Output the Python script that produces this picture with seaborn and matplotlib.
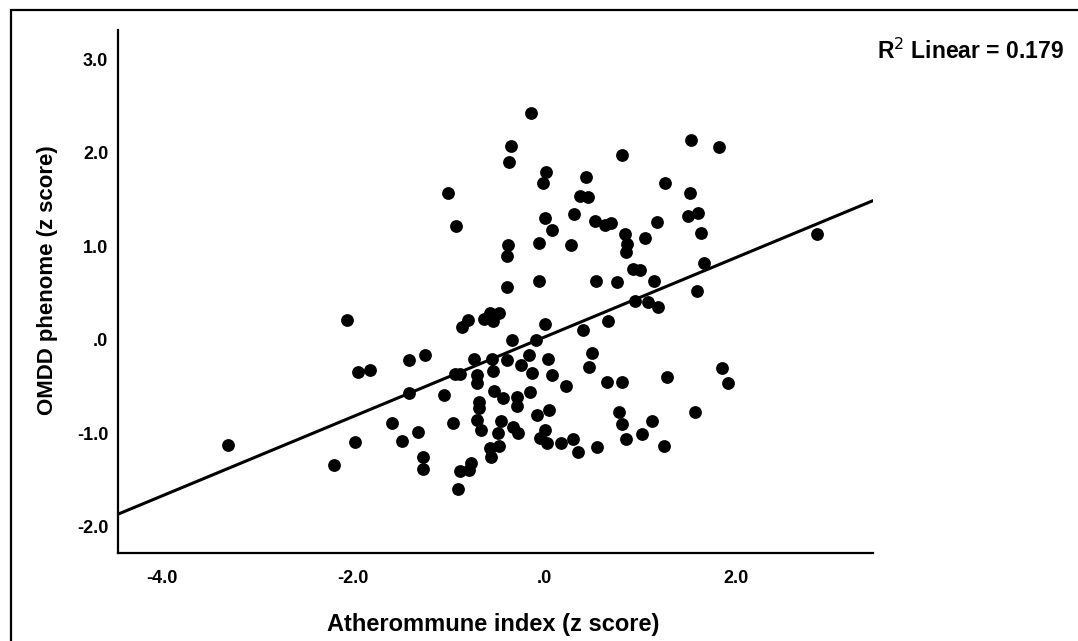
import numpy as np
import pandas as pd
import matplotlib
matplotlib.use("Agg")
import matplotlib.pyplot as plt
import seaborn as sns

# Atherommune index (z score)
atherommune = [
    -0.14, -0.355, -0.37, 0.01, -0.02, 0.43, 0.37, 0.45, -1.01, -0.93,
    0.81, 0.00, 0.08, 0.31, 0.53, 0.63, 0.69, 0.84, 0.86, 0.85,
    1.05, -0.38, -0.40, -0.06, 0.27, 0.92, 1.00, -0.06, 0.54, 0.75,
    1.53, 1.82, 1.26, 1.52, 1.50, 1.60, 1.17, 1.63, 2.85, 1.66,
    1.14, -0.39, 0.94, 1.08, 1.18, 1.59, -0.80, -0.87, -0.64, -0.57,
    -0.54, -0.48, 0.00, 0.66, 0.40, -0.34, -0.09, 0.49, 0.46, -0.74,
    -0.55, -0.39, -0.16, 0.03, -0.25, -0.94, -0.89, -0.71, -0.71, -0.54,
    -0.13, 0.08, 0.22, 0.65, 0.81, -1.05, -0.53, -0.44, -0.29, -0.29,
    -0.15, -0.69, -0.69, -0.08, 0.04, -0.96, -0.71, -0.67, -0.46, -0.49,
    -0.33, -0.28, 0.00, -0.05, 0.02, 0.17, 0.29, 0.35, 0.55, 0.78,
    0.81, 0.85, 1.02, -0.57, -0.48, -0.56, -0.89, -0.77, -0.79, -0.91,
    1.85, 1.91, 1.28, 1.57, 1.12, 1.25, -2.07, -1.95, -1.83, -1.42,
    -1.25, -1.42, -3.31, -1.60, -1.33, -1.98, -1.49, -1.27, -1.27, -2.20,
]

# OMDD phenome (z score)
omdd = [
    2.42, 2.07, 1.90, 1.79, 1.67, 1.74, 1.54, 1.52, 1.57, 1.22,
    1.97, 1.30, 1.17, 1.34, 1.27, 1.23, 1.25, 1.13, 1.02, 0.94,
    1.09, 1.01, 0.89, 1.03, 1.01, 0.76, 0.75, 0.63, 0.63, 0.62,
    2.13, 2.06, 1.67, 1.57, 1.32, 1.35, 1.26, 1.14, 1.13, 0.82,
    0.63, 0.56, 0.41, 0.40, 0.35, 0.52, 0.21, 0.14, 0.22, 0.28,
    0.20, 0.28, 0.17, 0.20, 0.10, 0.00, 0.00, -0.14, -0.29, -0.21,
    -0.21, -0.22, -0.16, -0.21, -0.27, -0.37, -0.37, -0.38, -0.46, -0.33,
    -0.36, -0.38, -0.50, -0.45, -0.45, -0.59, -0.55, -0.62, -0.61, -0.71,
    -0.56, -0.67, -0.73, -0.80, -0.75, -0.89, -0.86, -0.97, -0.87, -1.00,
    -0.93, -1.00, -0.96, -1.05, -1.10, -1.10, -1.06, -1.20, -1.15, -0.77,
    -0.90, -1.06, -1.01, -1.16, -1.14, -1.25, -1.40, -1.32, -1.39, -1.60,
    -0.30, -0.46, -0.40, -0.77, -0.87, -1.14, 0.21, -0.35, -0.32, -0.22,
    -0.16, -0.57, -1.13, -0.89, -0.99, -1.09, -1.08, -1.25, -1.38, -1.34,
]

x_ticks = [-4.0, -2.0, 0.0, 2.0]
x_tick_labels = ["-4.0", "-2.0", ".0", "2.0"]
y_ticks = [-2.0, -1.0, 0.0, 1.0, 2.0, 3.0]
y_tick_labels = ["-2.0", "-1.0", ".0", "1.0", "2.0", "3.0"]

x_label = "Atherommune index (z score)"
y_label = "OMDD phenome (z score)"
r2_text = "R$^2$ Linear = 0.179"

df = pd.DataFrame({"x": atherommune, "y": omdd})

sns.set_theme(style="white")
plt.rcParams["font.family"] = ["Liberation Sans", "DejaVu Sans"]

W, H = 1078, 641
fig = plt.figure(figsize=(W / 100, H / 100), dpi=100)
ax = fig.add_axes([118 / W, 1 - 553 / H, (873 - 118) / W, (553 - 30) / H])

ax.set_xlim(-4.46, 3.43)
ax.set_ylim(-2.28, 3.31)

sns.regplot(
    data=df, x="x", y="y", ax=ax, ci=None, truncate=False,
    scatter_kws=dict(s=85, color="black", linewidths=0, alpha=1),
    line_kws=dict(color="black", linewidth=2.2),
)

ax.set_xlim(-4.46, 3.43)
ax.set_ylim(-2.28, 3.31)

ax.set_xticks(x_ticks)
ax.set_xticklabels(x_tick_labels)
ax.set_yticks(y_ticks)
ax.set_yticklabels(y_tick_labels)
ax.tick_params(axis="both", length=0, labelsize=13, colors="black")
ax.tick_params(axis="x", pad=12)
ax.tick_params(axis="y", pad=7)
for lab in ax.get_xticklabels() + ax.get_yticklabels():
    lab.set_fontweight("bold")

for side in ["top", "right"]:
    ax.spines[side].set_visible(False)
for side in ["left", "bottom"]:
    ax.spines[side].set_visible(True)
    ax.spines[side].set_color("black")
    ax.spines[side].set_linewidth(1.6)

ax.set_xlabel(x_label, fontsize=17, fontweight="bold", color="black", va="center")
ax.set_ylabel(y_label, fontsize=16, fontweight="bold", color="black", va="center")
ax.xaxis.set_label_coords(0.497, -0.136)
ax.yaxis.set_label_coords(-0.093, 0.522)

fig.text(877 / W, 1 - 51 / H, r2_text, fontsize=16.5, fontweight="bold",
         ha="left", va="center", color="black")

border = plt.Rectangle((11 / W, -0.2), 1.5, 1.2 - 10 / H, transform=fig.transFigure,
                       fill=False, edgecolor="black", linewidth=1.6, clip_on=False)
fig.add_artist(border)

fig.savefig("out.png", dpi=100, facecolor="white")
